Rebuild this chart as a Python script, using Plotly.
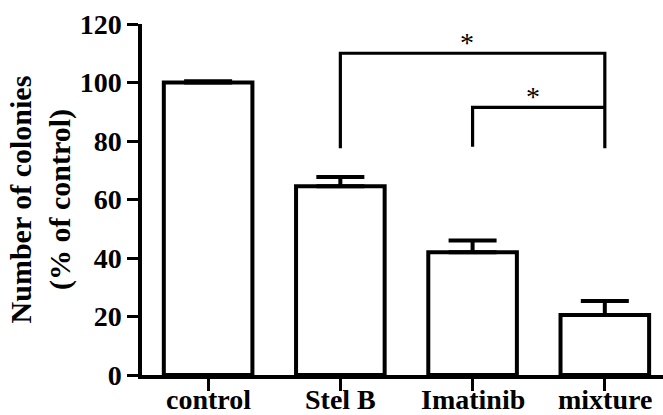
import plotly.graph_objects as go

# Colony formation relative to untreated control
categories = ["control", "Stel B", "Imatinib", "mixture"]
colonies_pct = [100.0, 64.5, 42.0, 20.5]
sem_pct = [0.4, 3.2, 4.0, 4.8]
y_ticks = [0, 20, 40, 60, 80, 100, 120]

# Significance brackets: (left group, right group, bar height, left leg bottom, right leg bottom)
comparisons = [
    ("Stel B", "mixture", 110.0, 77.5, 77.5),
    ("Imatinib", "mixture", 91.5, 78.0, None),
]
star_offset = 3.8

FONT = "Liberation Serif, Times New Roman, serif"

fig = go.Figure()

fig.add_trace(go.Bar(
    x=categories,
    y=colonies_pct,
    width=0.67,
    marker=dict(color="white", line=dict(color="black", width=4)),
    error_y=dict(
        type="data",
        array=sem_pct,
        arrayminus=[0] * len(sem_pct),
        symmetric=False,
        color="black",
        thickness=4,
        width=24,
    ),
    showlegend=False,
))

idx = {c: i for i, c in enumerate(categories)}
for left, right, h, lb, rb in comparisons:
    xs, ys = [], []
    if lb is not None:
        xs += [left]
        ys += [lb]
    xs += [left, right]
    ys += [h, h]
    if rb is not None:
        xs += [right]
        ys += [rb]
    fig.add_trace(go.Scatter(
        x=xs, y=ys, mode="lines",
        line=dict(color="black", width=3.2),
        hoverinfo="skip", showlegend=False,
    ))
    mid = (idx[left] + idx[right]) / 2
    fig.add_annotation(
        x=mid, y=h + star_offset, xref="x", yref="y",
        text="*", showarrow=False, xshift=-6,
        font=dict(family=FONT, size=28, color="black"),
    )

# Category labels under the axis, set just below the tick marks
for c in categories:
    fig.add_annotation(
        x=c, y=0, xref="x", yref="paper",
        text=f"<b>{c}</b>", showarrow=False,
        xanchor="center", yanchor="top", yshift=-7,
        font=dict(family=FONT, size=28, color="black"),
    )

fig.add_annotation(
    x=-0.194, y=0.5, xref="paper", yref="paper",
    text="<b>Number of colonies<br>(% of control)</b>",
    textangle=-90, showarrow=False,
    xanchor="center", yanchor="middle",
    font=dict(family=FONT, size=30, color="black"),
)

fig.update_layout(
    width=663, height=415,
    margin=dict(l=142, r=0, t=24, b=40),
    paper_bgcolor="white", plot_bgcolor="white",
    font=dict(family=FONT, color="black"),
)

fig.update_xaxes(
    range=[-0.5, 3.44],
    automargin=False,
    tickvals=categories,
    showticklabels=False,
    showline=True, linecolor="black", linewidth=3.5,
    ticks="outside", ticklen=12, tickwidth=3, tickcolor="black",
    showgrid=False, zeroline=False,
)
fig.update_yaxes(
    range=[0, 120],
    automargin=False,
    tickvals=y_ticks,
    ticktext=[f"<b>{v}</b>" for v in y_ticks],
    showline=True, linecolor="black", linewidth=3.5,
    ticks="outside", ticklen=11, tickwidth=3, tickcolor="black",
    tickfont=dict(family=FONT, size=28, color="black"),
    showgrid=False, zeroline=False,
)

fig.write_html("out.html")
